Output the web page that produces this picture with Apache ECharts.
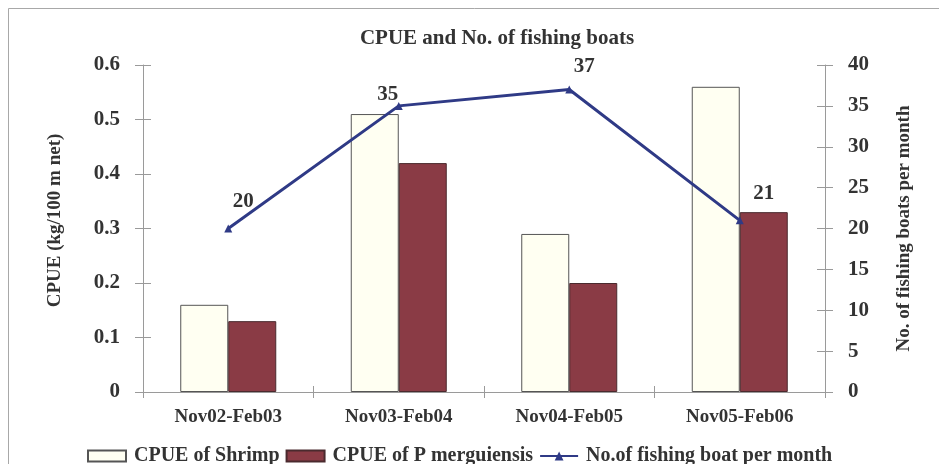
<!DOCTYPE html>
<html>
<head>
<meta charset="utf-8">
<script src="https://cdn.jsdelivr.net/npm/echarts@6/dist/echarts.min.js"></script>
<style>
  html, body { margin: 0; padding: 0; background: #fff; }
  #chart { width: 939px; height: 464px; }
</style>
</head>
<body>
<div id="chart"></div>
<script>
// Fishing seasons and catch-per-unit-effort figures
const seasons = ['Nov02-Feb03', 'Nov03-Feb04', 'Nov04-Feb05', 'Nov05-Feb06'];
const cpueShrimp = [0.16, 0.51, 0.29, 0.56];
const cpueMerguiensis = [0.13, 0.42, 0.20, 0.33];
const boatsPerMonth = [20, 35, 37, 21];

const serif = '"Liberation Serif", "Times New Roman", serif';
const axisGray = '#9a9a9a';
const textDark = '#333333';

const chart = echarts.init(document.getElementById('chart'));

// Extra y axis that only draws the inner half of the crossing ticks
function innerTickAxis(base) {
  return Object.assign({}, base, {
    name: '',
    axisLine: { show: false },
    axisLabel: { show: false },
    axisTick: { show: true, inside: true, length: 8, lineStyle: { color: axisGray } },
    splitLine: { show: false }
  });
}

const leftAxis = {
  type: 'value', position: 'left', min: 0, max: 0.6, interval: 0.1,
  name: 'CPUE (kg/100 m net)', nameLocation: 'middle', nameGap: 78, nameRotate: 90,
  nameTextStyle: { fontFamily: serif, fontWeight: 'bold', fontSize: 19, color: textDark,
                   padding: [0, 0, 0, 16] },
  axisLine: { show: true, lineStyle: { color: axisGray } },
  axisTick: { show: true, length: 8, lineStyle: { color: axisGray } },
  axisLabel: { fontFamily: serif, fontWeight: 'bold', fontSize: 21, color: textDark, margin: 23,
               formatter: v => (v === 0 ? '0' : v.toFixed(1)) },
  splitLine: { show: false }
};
const rightAxis = {
  type: 'value', position: 'right', min: 0, max: 40, interval: 5,
  name: 'No. of fishing boats per month', nameLocation: 'middle', nameGap: 70, nameRotate: 90,
  nameTextStyle: { fontFamily: serif, fontWeight: 'bold', fontSize: 19, color: textDark },
  axisLine: { show: true, lineStyle: { color: axisGray } },
  axisTick: { show: true, length: 8, lineStyle: { color: axisGray } },
  axisLabel: { fontFamily: serif, fontWeight: 'bold', fontSize: 21, color: textDark, margin: 23 },
  splitLine: { show: false }
};

// Nudges for the value labels on the boat line
const boatLabelOffsets = [[15, 0], [-11, 15], [15, 4], [24, 0]];

const option = {
  backgroundColor: '#ffffff',
  animation: false,
  title: {
    text: 'CPUE and No. of fishing boats',
    left: 492, top: 23, textAlign: 'center',
    textStyle: { fontFamily: serif, fontWeight: 'bold', fontSize: 21, color: textDark }
  },
  legend: {
    left: 82, top: 441,
    itemWidth: 38, itemHeight: 11, itemGap: 6,
    textStyle: { fontFamily: serif, fontWeight: 'bold', fontSize: 20, color: textDark, padding: [0, 0, 0, 3] },
    data: [
      { name: 'CPUE of Shrimp', icon: 'rect' },
      { name: 'CPUE of P merguiensis', icon: 'rect' },
      { name: 'No.of fishing boat per month' }
    ]
  },
  grid: { left: 143, right: 114, top: 65, bottom: 72, containLabel: false },
  xAxis: [{
    type: 'category', data: seasons, boundaryGap: true,
    axisLine: { show: true, lineStyle: { color: axisGray } },
    axisTick: { show: true, length: 6, lineStyle: { color: axisGray } },
    axisLabel: { fontFamily: serif, fontWeight: 'bold', fontSize: 19, color: textDark, margin: 16 }
  }, {
    type: 'category', data: seasons, boundaryGap: true, position: 'bottom',
    axisLine: { show: false },
    axisTick: { show: true, inside: true, length: 6, lineStyle: { color: axisGray } },
    axisLabel: { show: false }
  }],
  yAxis: [leftAxis, rightAxis, innerTickAxis(leftAxis), innerTickAxis(rightAxis)],
  graphic: [{
    type: 'rect', silent: true, z: -1,
    shape: { x: 8.5, y: 8.5, width: 960, height: 480 },
    style: { fill: 'none', stroke: '#a8a8a8', lineWidth: 1 }
  }],
  series: [{
    name: 'CPUE of Shrimp', type: 'bar', data: cpueShrimp,
    barWidth: 48, barGap: '0%',
    itemStyle: { color: '#fffff2', borderColor: '#555555', borderWidth: 1 }
  }, {
    name: 'CPUE of P merguiensis', type: 'bar', data: cpueMerguiensis,
    barWidth: 48, barGap: '0%',
    itemStyle: { color: '#8a3b45', borderColor: '#4a2a2e', borderWidth: 1 }
  }, {
    name: 'No.of fishing boat per month', type: 'line', yAxisIndex: 1,
    data: boatsPerMonth.map((v, i) => ({ value: v, label: { offset: boatLabelOffsets[i] } })),
    symbol: 'triangle', symbolSize: 8,
    lineStyle: { color: '#2f3a86', width: 3 },
    itemStyle: { color: '#2f3a86' },
    label: { show: true, position: 'top', distance: 12,
             fontFamily: serif, fontWeight: 'bold', fontSize: 21, color: textDark },
    z: 5
  }]
};

chart.setOption(option);
</script>
</body>
</html>
